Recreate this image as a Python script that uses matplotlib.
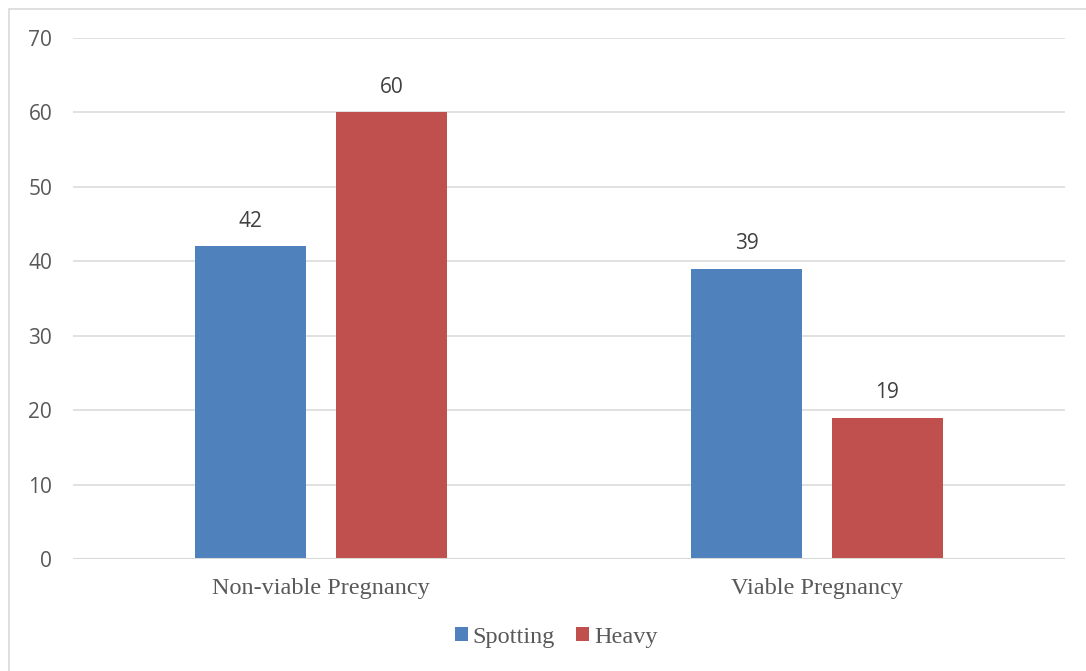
import matplotlib.pyplot as plt
from matplotlib.patches import Rectangle
import numpy as np

categories = ["Non-viable Pregnancy", "Viable Pregnancy"]
spotting = [42, 39]
heavy = [60, 19]
series_names = ["Spotting", "Heavy"]
colors = ["#4F81BD", "#C0504D"]
text_color = "#595959"

W, H = 1086, 671
fig = plt.figure(figsize=(W / 100, H / 100), dpi=100)

# outer chart frame (runs off the right and bottom edges)
fig.patches.append(Rectangle((9 / W, -0.1), 1.2, 1 - 9 / H + 0.1,
                             transform=fig.transFigure, fill=False,
                             edgecolor="#D9D9D9", linewidth=1.2))

ax = fig.add_axes([73 / W, (H - 559) / H, (1065 - 73) / W, (559 - 38) / H])

x = np.arange(len(categories))
bw = 0.224
off = 0.142
for vals, name, c, dx in zip([spotting, heavy], series_names, colors, [-off, off]):
    bars = ax.bar(x + dx, vals, bw, color=c, label=name, zorder=3)
    for b, v in zip(bars, vals):
        ax.text(b.get_x() + b.get_width() / 2, v + 2.0, str(v),
                ha="center", va="bottom", fontsize=15, color="#404040",
                family="Open Sans")

ax.set_xlim(-0.5, 1.5)
ax.set_ylim(0, 70)
ax.set_yticks(range(0, 71, 10))
ax.yaxis.grid(True, color="#D9D9D9", linewidth=1.1, zorder=0)
ax.axhline(0, color="#D9D9D9", linewidth=1.5, zorder=4)
for s in ax.spines.values():
    s.set_visible(False)
ax.tick_params(axis="both", length=0)
ax.tick_params(axis="y", pad=15, labelsize=15, labelcolor=text_color)
for lbl in ax.get_yticklabels():
    lbl.set_family("Open Sans")
ax.set_xticks(x)
ax.set_xticklabels(categories, family="Liberation Serif", fontsize=17.5,
                   color=text_color)
ax.tick_params(axis="x", pad=14)

fig.legend(loc="center", bbox_to_anchor=(0.512, 1 - 637 / H), ncol=2,
           frameon=False, prop={"family": "Liberation Serif", "size": 17.5},
           labelcolor=text_color, handlelength=0.55, handleheight=0.55,
           handletextpad=0.2, columnspacing=0.85)

fig.savefig("out.png", dpi=100)
